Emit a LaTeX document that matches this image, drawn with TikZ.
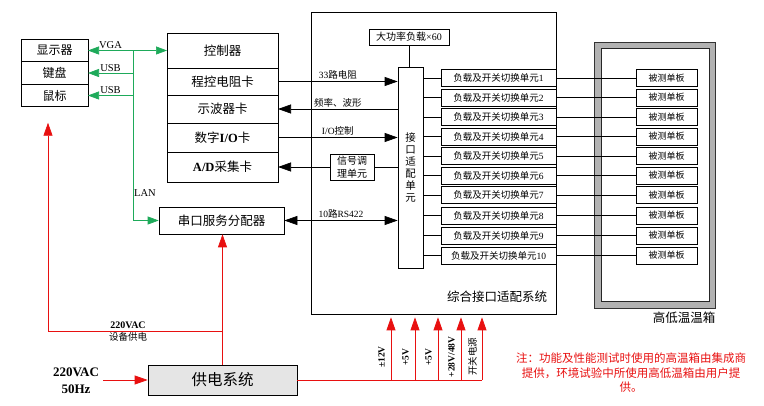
\documentclass[tikz,border=0pt]{standalone}
\usepackage{fontspec}
\setmainfont{Noto Sans CJK SC}
\newfontfamily\lat{Liberation Serif}
\usepackage{tikz}
\usetikzlibrary{arrows.meta, calc, positioning}

\definecolor{langreen}{RGB}{30,170,90}
\definecolor{pwrred}{RGB}{232,16,16}
\newcommand{\sz}[1]{\fontsize{#1}{#1}\selectfont}

\begin{document}
\begin{tikzpicture}[x=1pt, y=-1pt, line width=0.7pt,
  cell/.style={draw, minimum width=111, inner sep=0pt, outer sep=0pt, font=\sz{12.5}},
  peri/.style={draw, minimum width=67, minimum height=22.5, inner sep=0pt, outer sep=0pt, font=\sz{12}},
  unit/.style={draw, minimum width=115, minimum height=17, inner sep=0pt, font=\sz{9.5}},
  dutbox/.style={draw, minimum width=61, minimum height=17, inner sep=0pt, font=\sz{9}},
  lbl/.style={font=\sz{9.5}, inner sep=1.5pt},
  sig/.style={-{Triangle[length=13pt, width=9pt]}},
  gsig/.style={draw=langreen, -{Triangle[length=11pt, width=8pt]}},
  pwr/.style={draw=pwrred, -{Triangle[length=13pt, width=9pt]}}]
  \useasboundingbox (0,0) rectangle (764,406);

  % Adapter system frame
  \node[draw, minimum width=245, minimum height=302, inner sep=0pt] (sys) at (433.5,163) {};
  \node[font=\sz{12.5}] at (497,297) {综合接口适配系统};

  % Temperature chamber
  \fill[gray!60] (594,42) rectangle (715,308);
  \draw[gray!40!black, line width=0.5pt] (594,42) rectangle (715,308);
  \draw[fill=white, draw=gray!30!black] (601,48) rectangle (709,301);
  \node[font=\sz{12.5}] at (684,318) {高低温温箱};

  % Peripherals
  \node[peri] (disp) at (54.5,50.5) {显示器};
  \node[peri, below=0pt of disp] (kbd) {键盘};
  \node[peri, below=0pt of kbd] (mouse) {鼠标};

  % Controller stack
  \node[cell, minimum height=35] (ctrl) at (222.5,50.5) {控制器};
  \node[cell, minimum height=27, below=0pt of ctrl] (res) {程控电阻卡};
  \node[cell, minimum height=28, below=0pt of res] (scope) {示波器卡};
  \node[cell, minimum height=29, below=0pt of scope] (dio) {数字{\lat\bfseries I/O}卡};
  \node[cell, minimum height=30, below=0pt of dio] (adc) {{\lat\bfseries A/D}采集卡};

  \node[draw, minimum width=125, minimum height=27, inner sep=0pt, font=\sz{12.5}] (serial) at (221.5,220.5) {串口服务分配器};
  \node[draw, fill=gray!20, minimum width=149, minimum height=30, inner sep=0pt, font=\sz{15.5}] (power) at (222.5,380) {供电系统};

  % Interface unit
  \node[draw, minimum width=80, minimum height=16, inner sep=0pt, font=\sz{10}] (load) at (409,37) {大功率负载{\lat ×60}};
  \node[draw, minimum width=25, minimum height=201, inner sep=0pt, align=center,
        font=\fontsize{10.5}{12}\selectfont] (iface) at (410.5,167.5) {接\\口\\适\\配\\单\\元};
  \node[draw, minimum width=44, minimum height=26, inner sep=0pt, align=center,
        font=\fontsize{10}{12.5}\selectfont] (cond) at (352,167) {信号调\\理单元};
  \draw (load.south) -- (load.south |- iface.north);

  \foreach \i/\y in {1/78,2/97.5,3/117,4/136.5,5/156,6/175.5,7/195,8/215.5,9/235.5,10/255.5}{
    \node[unit] (unit\i) at (498.5,\y) {负载及开关切换单元{\lat\i}};
    \node[dutbox, fill=white] (dut\i) at (666.5,\y) {被测单板};
    \draw (iface.east |- unit\i) -- (unit\i.west);
    \draw (unit\i.east) -- (dut\i.west);
  }

  % Card links
  \draw[sig] (res.east) -- node[lbl, above] {{\lat 33}路电阻} (res.east -| iface.west);
  \draw[sig] (scope.east -| iface.west) -- node[lbl, above] {频率、波形} (scope.east);
  \draw[sig] (dio.east) -- node[lbl, above] {{\lat I/O}控制} (dio.east -| iface.west);
  \draw (iface.west |- cond) -- (cond.east);
  \draw[sig] (cond.west) -- (cond.west -| adc.east);
  \draw[sig, {Triangle[length=13pt, width=9pt]}-{Triangle[length=13pt, width=9pt]}]
    (serial.east) -- node[lbl, above] {{\lat 10}路{\lat RS422}} (serial.east -| iface.west);

  % LAN / video links
  \coordinate (lan) at (133,50.5);
  \draw[gsig, {Triangle[length=11pt, width=8pt]}-{Triangle[length=11pt, width=8pt]}] (disp.east) -- (ctrl.west);
  \node[lbl, above, font=\lat\sz{10.5}] at ($(disp.east)!0.5!(lan)$) {VGA};
  \draw[gsig] (lan |- kbd) -- node[lbl, above, font=\lat\sz{10.5}] {USB} (kbd.east);
  \draw[gsig] (lan |- mouse) -- node[lbl, above, font=\lat\sz{10.5}] {USB} (mouse.east);
  \draw[gsig] (lan) -- (lan |- serial) -- (serial.west);
  \node[lbl, font=\lat\sz{10.5}] at (145,193) {LAN};

  % Power distribution
  \coordinate (mains) at (103,380);
  \coordinate (feed) at (48,331);
  \node[align=center, font=\lat\bfseries\fontsize{13}{17}\selectfont] at (76,381) {220VAC\\50Hz};
  \draw[pwr] (mains) -- (power.west);
  \draw[pwr] (power.north) -- (serial.south -| power.north);
  \draw[pwr, shorten >=16pt] (power.north |- feed) -- (feed) -- (feed |- mouse.south);
  \node[lbl, above, font=\lat\bfseries\sz{10}] at (128,331) {220VAC};
  \node[lbl, below, font=\sz{9.5}] at (128,331) {设备供电};
  \coordinate (busend) at (482,380);
  \draw[pwrred] (power.east) -- (busend);
  \foreach \i/\x/\t in {1/391/{\lat\bfseries ±12V}, 2/415/{\lat\bfseries +5V}, 3/438/{\lat\bfseries +5V},
                        4/461/{\lat\bfseries +28V/48V}, 5/482/{开关电源}}{
    \coordinate (tap\i) at (\x,380);
    \draw[pwr, shorten >=3pt] (tap\i) -- (tap\i |- sys.south);
    \node[rotate=90, font=\sz{9.5}, inner sep=0pt] at ($(tap\i)+(-9.5,-23)$) {\t};
  }

  % Note
  \node[text=pwrred, align=center, font=\fontsize{11.5}{14.5}\selectfont] at (631,373)
    {注：功能及性能测试时使用的高温箱由集成商\\提供，环境试验中所使用高低温箱由用户提\\供。};
\end{tikzpicture}
\end{document}
